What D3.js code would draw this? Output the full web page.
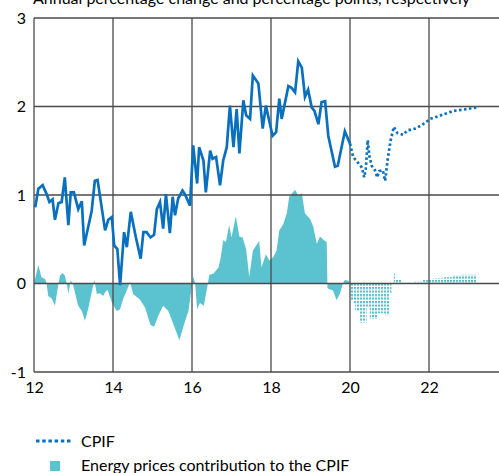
<!DOCTYPE html>
<html>
<head>
<meta charset="utf-8">
<script src="https://cdn.jsdelivr.net/npm/d3@7"></script>
<style>
  html, body { margin: 0; padding: 0; background: #fff; overflow: hidden; }
  svg { display: block; font-family: Lato, "Open Sans", sans-serif; }
</style>
</head>
<body>
<svg id="chart" width="499" height="473"></svg>
<script>
// ---- Data (years as 12 = 2012, values in % / percentage points) ----
const titleText = "Annual percentage change and percentage points, respectively";
const yTicks = [-1, 0, 1, 2, 3];
const yTickLabels = ["-1", "0", "1", "2", "3"];
const xTicks = [12, 14, 16, 18, 20, 22];
const xTickLabels = ["12", "14", "16", "18", "20", "22"];

// CPIF outcome
const cpifYears = [12.03,12.11,12.22,12.32,12.39,12.47,12.53,12.62,12.70,12.78,12.87,12.93,13.01,13.12,13.21,13.27,13.46,13.54,13.61,13.80,13.88,13.97,14.03,14.11,14.18,14.28,14.35,14.45,14.58,14.70,14.77,14.85,14.95,15.04,15.11,15.19,15.27,15.34,15.44,15.51,15.57,15.65,15.76,15.82,15.95,16.03,16.13,16.18,16.29,16.35,16.46,16.52,16.61,16.71,16.79,16.88,16.96,17.05,17.13,17.20,17.30,17.37,17.47,17.54,17.68,17.79,17.87,18.04,18.13,18.21,18.27,18.44,18.52,18.61,18.69,18.78,18.86,18.94,19.03,19.10,19.20,19.28,19.37,19.45,19.62,19.69,19.87,20.00];
const cpifValues = [0.86,1.07,1.11,1.01,0.92,0.95,0.72,0.91,0.92,1.20,0.66,1.03,1.03,0.84,0.93,0.43,0.82,1.16,1.17,0.60,0.72,0.75,0.43,0.39,-0.02,0.58,0.41,0.81,0.52,0.28,0.58,0.58,0.52,0.55,0.84,0.92,0.62,1.01,0.57,0.98,0.77,0.96,1.05,1.01,0.88,1.56,1.13,1.54,1.39,1.03,1.50,1.41,1.43,1.11,1.39,1.54,2.01,1.54,1.97,1.47,2.07,1.90,1.86,2.35,2.26,1.75,2.01,1.67,1.71,2.09,1.86,2.23,2.21,2.16,2.51,2.44,2.11,2.19,1.99,1.95,1.80,2.05,2.06,1.67,1.32,1.33,1.72,1.58];

// CPIF forecast
const cpifFcYears = [20.00,20.08,20.21,20.30,20.36,20.40,20.45,20.49,20.55,20.63,20.69,20.74,20.83,20.89,20.95,21.03,21.11,21.20,21.35,21.45,21.65,21.82,22.03,22.36,22.62,22.95,23.20];
const cpifFcValues = [1.58,1.43,1.36,1.31,1.20,1.30,1.62,1.44,1.33,1.28,1.20,1.27,1.28,1.16,1.39,1.62,1.77,1.70,1.68,1.73,1.75,1.79,1.86,1.91,1.95,1.97,1.99];

// Energy prices contribution, outcome
const energyYears = [12.00,12.11,12.19,12.28,12.32,12.36,12.45,12.53,12.62,12.66,12.72,12.78,12.83,12.87,12.93,12.99,13.12,13.21,13.29,13.37,13.46,13.53,13.59,13.67,13.75,13.80,13.86,13.97,14.09,14.18,14.26,14.35,14.43,14.51,14.68,14.81,14.95,15.04,15.15,15.27,15.40,15.53,15.68,15.78,15.91,15.99,16.03,16.08,16.13,16.20,16.30,16.37,16.44,16.54,16.67,16.73,16.79,16.86,16.94,17.00,17.11,17.20,17.28,17.37,17.45,17.54,17.70,17.76,17.87,17.96,18.06,18.14,18.21,18.31,18.40,18.46,18.61,18.69,18.78,18.86,18.99,19.07,19.16,19.24,19.34,19.41,19.43,19.45,19.57,19.66,19.75,19.82,19.87,19.96,20.00];
const energyValues = [0.00,0.21,0.07,0.05,0.00,-0.14,-0.17,-0.25,0.00,0.09,0.12,0.09,0.00,-0.12,0.04,-0.02,-0.25,-0.31,-0.42,-0.29,-0.10,0.04,-0.12,-0.11,-0.14,-0.10,-0.07,-0.21,-0.31,-0.29,-0.17,-0.08,0.02,-0.12,-0.18,-0.27,-0.47,-0.49,-0.36,-0.25,-0.31,-0.46,-0.64,-0.49,-0.31,-0.05,0.08,0.00,-0.29,-0.22,-0.25,-0.08,0.10,0.11,0.18,0.30,0.49,0.47,0.66,0.52,0.76,0.53,0.52,0.39,0.07,0.37,0.48,0.18,0.33,0.26,0.30,0.37,0.60,0.67,0.79,0.98,1.06,0.99,1.02,0.79,0.73,0.64,0.45,0.53,0.49,0.47,-0.05,-0.06,-0.08,-0.19,-0.11,0.00,0.04,0.03,0.00];

// Energy prices contribution, forecast
const energyFcYears = [20.00,20.08,20.13,20.23,20.33,20.42,20.50,20.63,20.70,20.82,20.88,20.97,21.00,21.05,21.11,21.17,21.30,21.60,21.85,22.10,22.35,22.60,22.85,23.20];
const energyFcValues = [-0.19,-0.22,-0.31,-0.44,-0.44,-0.26,-0.40,-0.40,-0.34,-0.34,-0.36,-0.36,-0.11,0.00,0.11,0.04,0.01,0.02,0.04,0.06,0.07,0.09,0.10,0.10];

const legendLabels = ["CPIF", "Energy prices contribution to the CPIF"];

// ---- Styles ----
const lineColor = "#0A70BE";
const areaColor = "#5BC2D0";
const gridColor = "#4a4a4a";

const svg = d3.select("#chart");
const x = d3.scaleLinear().domain([12, 24]).range([34, 508]);
const y = d3.scaleLinear().domain([-1, 3]).range([372, 18]);

const zip = (xs, vs) => xs.map((d, i) => ({ x: d, v: vs[i] }));
const cpif = zip(cpifYears, cpifValues);
const cpifFc = zip(cpifFcYears, cpifFcValues);
const energy = zip(energyYears, energyValues);
const energyFc = zip(energyFcYears, energyFcValues);

// pattern for forecast area
const defs = svg.append("defs");
const pat = defs.append("pattern").attr("id", "dots").attr("patternUnits", "userSpaceOnUse")
  .attr("width", 3).attr("height", 3.5);
pat.append("rect").attr("x", 0).attr("y", 0).attr("width", 2).attr("height", 2.2).attr("fill", areaColor);

// areas
const area = d3.area().x(d => x(d.x)).y0(y(0)).y1(d => y(d.v));
svg.append("path").datum(energy).attr("d", area).attr("fill", areaColor);
svg.append("path").datum(energyFc).attr("d", area.curve(d3.curveStepAfter)).attr("fill", "url(#dots)");

// gridlines
const g = svg.append("g");
g.selectAll("line.v").data(xTicks.concat([24])).enter().append("line")
  .attr("x1", d => x(d)).attr("x2", d => x(d)).attr("y1", y(3)).attr("y2", y(-1))
  .attr("stroke", gridColor).attr("stroke-width", 1.3);
g.selectAll("line.h").data(yTicks).enter().append("line")
  .attr("x1", x(12)).attr("x2", x(24)).attr("y1", d => y(d)).attr("y2", d => y(d))
  .attr("stroke", gridColor).attr("stroke-width", 1.3);

// axes labels
const yAxis = d3.axisLeft(y).tickValues(yTicks).tickSize(0).tickPadding(8).tickFormat((d, i) => yTickLabels[i]);
const ya = svg.append("g").attr("transform", `translate(${x(12)},0)`).call(yAxis);
ya.select(".domain").remove();
ya.selectAll("text").attr("font-size", 16).attr("font-family", "Lato").attr("fill", "#000");

const xAxis = d3.axisBottom(x).tickValues(xTicks).tickSize(0).tickPadding(10).tickFormat((d, i) => xTickLabels[i]);
const xa = svg.append("g").attr("transform", `translate(0,${y(-1)})`).call(xAxis);
xa.select(".domain").remove();
xa.selectAll("text").attr("font-size", 16).attr("font-family", "Lato").attr("fill", "#000");

// lines
const line = d3.line().x(d => x(d.x)).y(d => y(d.v));
svg.append("path").datum(cpif).attr("d", line).attr("fill", "none")
  .attr("stroke", lineColor).attr("stroke-width", 2.7).attr("stroke-linejoin", "miter");
svg.append("path").datum(cpifFc).attr("d", line).attr("fill", "none")
  .attr("stroke", lineColor).attr("stroke-width", 2.7).attr("stroke-dasharray", "2.5,2.5");

// title (cut off at the top edge, as in the reference)
svg.append("text").attr("x", 33).attr("y", 4).attr("font-size", 16).attr("fill", "#000")
  .text(titleText);

// legend
const lg = svg.append("g");
lg.append("line").attr("x1", 36).attr("x2", 72).attr("y1", 441).attr("y2", 441)
  .attr("stroke", lineColor).attr("stroke-width", 3).attr("stroke-dasharray", "3.5,2.7");
lg.append("text").attr("x", 81).attr("y", 447).attr("font-size", 16).text(legendLabels[0]);
lg.append("rect").attr("x", 50).attr("y", 461).attr("width", 10).attr("height", 10).attr("fill", areaColor);
lg.append("text").attr("x", 81).attr("y", 471).attr("font-size", 16).text(legendLabels[1]);
</script>
</body>
</html>
